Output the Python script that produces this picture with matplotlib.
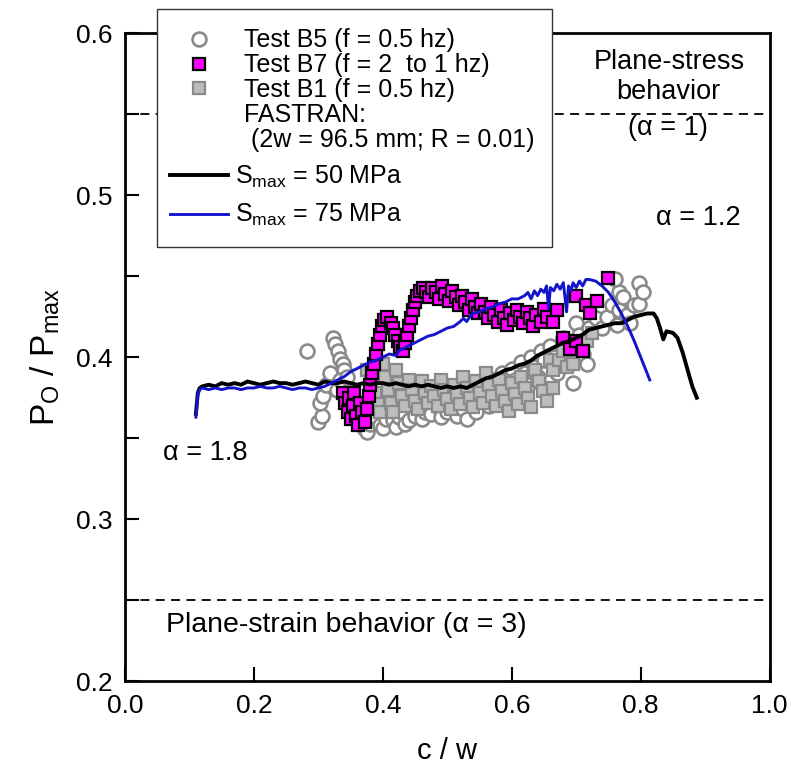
import numpy as np
import matplotlib
matplotlib.use("Agg")
import matplotlib.pyplot as plt
from matplotlib.lines import Line2D
from matplotlib.patches import Rectangle

plt.rcParams["font.family"] = ["Liberation Sans", "DejaVu Sans"]
plt.rcParams["mathtext.fontset"] = "custom"
plt.rcParams["mathtext.rm"] = "Liberation Sans"
plt.rcParams["mathtext.it"] = "Liberation Sans"

# Test B5 (open circles)
b5_pts = [
    (0.282, 0.404), (0.300, 0.360), (0.305, 0.364), (0.303, 0.372), (0.307, 0.376),
    (0.312, 0.383), (0.318, 0.390), (0.322, 0.412), (0.326, 0.408), (0.330, 0.404),
    (0.334, 0.399), (0.338, 0.396), (0.340, 0.392), (0.329, 0.380), (0.333, 0.386),
    (0.345, 0.388), (0.350, 0.378), (0.360, 0.370), (0.365, 0.362), (0.370, 0.356),
    (0.375, 0.354), (0.380, 0.359), (0.385, 0.364), (0.390, 0.370), (0.395, 0.358),
    (0.400, 0.356), (0.405, 0.362), (0.410, 0.368), (0.415, 0.361), (0.420, 0.357),
    (0.425, 0.363), (0.430, 0.366), (0.435, 0.359), (0.440, 0.361), (0.445, 0.369),
    (0.450, 0.364), (0.455, 0.372), (0.460, 0.362), (0.465, 0.366), (0.470, 0.371),
    (0.475, 0.365), (0.480, 0.374), (0.485, 0.369), (0.490, 0.363), (0.495, 0.371),
    (0.500, 0.366), (0.505, 0.375), (0.510, 0.370), (0.515, 0.364), (0.520, 0.372),
    (0.525, 0.368), (0.530, 0.362), (0.535, 0.376), (0.540, 0.371), (0.545, 0.366),
    (0.550, 0.374), (0.555, 0.382), (0.560, 0.378), (0.565, 0.370), (0.570, 0.386),
    (0.575, 0.380), (0.580, 0.374), (0.585, 0.390), (0.590, 0.384), (0.595, 0.376),
    (0.600, 0.393), (0.605, 0.386), (0.610, 0.380), (0.615, 0.397), (0.620, 0.390),
    (0.625, 0.383), (0.630, 0.400), (0.635, 0.394), (0.640, 0.388), (0.645, 0.404),
    (0.650, 0.398), (0.655, 0.380), (0.660, 0.407), (0.665, 0.400), (0.670, 0.390),
    (0.680, 0.412), (0.685, 0.405), (0.690, 0.396), (0.695, 0.384), (0.700, 0.421),
    (0.705, 0.414), (0.710, 0.402), (0.716, 0.396), (0.720, 0.418), (0.730, 0.424),
    (0.740, 0.418), (0.747, 0.425), (0.755, 0.432), (0.763, 0.420), (0.767, 0.429),
    (0.767, 0.440), (0.772, 0.437), (0.778, 0.426), (0.783, 0.421), (0.790, 0.432),
    (0.798, 0.433), (0.798, 0.446), (0.804, 0.440), (0.760, 0.448),
]

# Test B7 (magenta squares)
b7_pts = [
    (0.338, 0.378), (0.342, 0.372), (0.346, 0.366), (0.350, 0.362), (0.348, 0.375),
    (0.354, 0.370), (0.358, 0.364), (0.362, 0.358), (0.356, 0.378), (0.364, 0.372),
    (0.368, 0.366), (0.372, 0.360), (0.376, 0.368), (0.378, 0.376), (0.380, 0.383),
    (0.383, 0.390), (0.386, 0.396), (0.389, 0.402), (0.392, 0.408), (0.395, 0.414),
    (0.398, 0.419), (0.402, 0.423), (0.407, 0.425), (0.412, 0.421), (0.415, 0.418),
    (0.419, 0.414), (0.423, 0.410), (0.427, 0.406), (0.431, 0.404), (0.435, 0.409),
    (0.438, 0.414), (0.441, 0.419), (0.444, 0.424), (0.447, 0.429), (0.450, 0.434),
    (0.453, 0.438), (0.457, 0.441), (0.462, 0.443), (0.467, 0.440), (0.472, 0.437),
    (0.477, 0.443), (0.482, 0.440), (0.487, 0.436), (0.492, 0.444), (0.497, 0.439),
    (0.502, 0.435), (0.507, 0.441), (0.513, 0.437), (0.518, 0.432), (0.523, 0.438),
    (0.528, 0.434), (0.533, 0.429), (0.538, 0.436), (0.543, 0.431), (0.548, 0.427),
    (0.553, 0.433), (0.558, 0.428), (0.563, 0.424), (0.568, 0.431), (0.573, 0.426),
    (0.578, 0.422), (0.583, 0.429), (0.588, 0.424), (0.593, 0.420), (0.598, 0.427),
    (0.603, 0.423), (0.608, 0.429), (0.613, 0.425), (0.618, 0.421), (0.623, 0.428),
    (0.628, 0.424), (0.633, 0.419), (0.638, 0.426), (0.645, 0.422), (0.650, 0.430),
    (0.655, 0.425), (0.664, 0.422), (0.670, 0.429), (0.679, 0.412), (0.690, 0.405),
    (0.700, 0.438), (0.700, 0.410), (0.710, 0.404), (0.715, 0.432), (0.721, 0.427),
    (0.732, 0.435), (0.749, 0.449),
]

# Test B1 (gray squares)
b1_pts = [
    (0.375, 0.392), (0.382, 0.385), (0.388, 0.378), (0.392, 0.371), (0.396, 0.366),
    (0.400, 0.396), (0.404, 0.388), (0.408, 0.380), (0.412, 0.372), (0.416, 0.366),
    (0.420, 0.392), (0.425, 0.384), (0.430, 0.376), (0.435, 0.370), (0.440, 0.386),
    (0.445, 0.380), (0.450, 0.373), (0.455, 0.368), (0.460, 0.385), (0.465, 0.378),
    (0.470, 0.372), (0.475, 0.382), (0.480, 0.376), (0.485, 0.370), (0.490, 0.386),
    (0.495, 0.380), (0.500, 0.374), (0.505, 0.368), (0.510, 0.383), (0.515, 0.377),
    (0.520, 0.371), (0.525, 0.388), (0.530, 0.381), (0.535, 0.375), (0.540, 0.369),
    (0.545, 0.385), (0.550, 0.378), (0.555, 0.372), (0.560, 0.390), (0.565, 0.383),
    (0.570, 0.376), (0.575, 0.370), (0.580, 0.386), (0.585, 0.379), (0.590, 0.373),
    (0.595, 0.367), (0.600, 0.384), (0.605, 0.377), (0.610, 0.371), (0.615, 0.388),
    (0.620, 0.381), (0.625, 0.375), (0.630, 0.369), (0.636, 0.392), (0.642, 0.385),
    (0.648, 0.379), (0.654, 0.373), (0.660, 0.398), (0.664, 0.392), (0.664, 0.381),
    (0.674, 0.398), (0.680, 0.404), (0.686, 0.394), (0.695, 0.404), (0.695, 0.396),
    (0.705, 0.408), (0.716, 0.410), (0.725, 0.415),
]

# FASTRAN, Smax = 50 MPa
s50_pts = [
    (0.110, 0.365), (0.113, 0.378), (0.116, 0.381), (0.120, 0.382), (0.130, 0.383),
    (0.140, 0.382), (0.150, 0.384), (0.160, 0.383), (0.170, 0.384), (0.180, 0.383),
    (0.190, 0.385), (0.200, 0.384), (0.210, 0.383), (0.220, 0.384), (0.230, 0.385),
    (0.240, 0.384), (0.250, 0.384), (0.260, 0.383), (0.270, 0.384), (0.280, 0.385),
    (0.290, 0.384), (0.300, 0.383), (0.310, 0.385), (0.320, 0.384), (0.330, 0.384),
    (0.340, 0.385), (0.350, 0.384), (0.360, 0.383), (0.370, 0.384), (0.380, 0.383),
    (0.390, 0.384), (0.400, 0.384), (0.410, 0.383), (0.420, 0.384), (0.430, 0.383),
    (0.440, 0.382), (0.450, 0.383), (0.460, 0.382), (0.470, 0.383), (0.480, 0.382),
    (0.490, 0.381), (0.500, 0.382), (0.510, 0.381), (0.520, 0.382), (0.530, 0.381),
    (0.540, 0.383), (0.550, 0.385), (0.560, 0.387), (0.570, 0.388), (0.580, 0.390),
    (0.590, 0.392), (0.600, 0.393), (0.610, 0.395), (0.620, 0.396), (0.630, 0.398),
    (0.640, 0.401), (0.650, 0.403), (0.660, 0.405), (0.670, 0.407), (0.680, 0.409),
    (0.690, 0.410), (0.700, 0.412), (0.710, 0.414), (0.720, 0.417), (0.730, 0.418),
    (0.740, 0.419), (0.750, 0.420), (0.760, 0.421), (0.770, 0.421), (0.780, 0.423),
    (0.790, 0.425), (0.800, 0.426), (0.810, 0.427), (0.820, 0.427), (0.825, 0.424),
    (0.830, 0.418), (0.835, 0.411), (0.840, 0.416), (0.850, 0.415), (0.857, 0.412),
    (0.865, 0.403), (0.870, 0.396), (0.875, 0.389), (0.880, 0.382), (0.887, 0.375),
]

# FASTRAN, Smax = 75 MPa
s75_pts = [
    (0.110, 0.363), (0.113, 0.377), (0.116, 0.380), (0.120, 0.381), (0.130, 0.380),
    (0.140, 0.381), (0.150, 0.380), (0.160, 0.381), (0.170, 0.381), (0.180, 0.380),
    (0.190, 0.381), (0.200, 0.381), (0.210, 0.382), (0.220, 0.381), (0.230, 0.381),
    (0.240, 0.382), (0.250, 0.381), (0.260, 0.380), (0.270, 0.381), (0.280, 0.381),
    (0.290, 0.380), (0.300, 0.381), (0.310, 0.382), (0.320, 0.384), (0.330, 0.386),
    (0.340, 0.388), (0.350, 0.391), (0.360, 0.393), (0.370, 0.395), (0.380, 0.397),
    (0.390, 0.398), (0.400, 0.400), (0.410, 0.402), (0.420, 0.401), (0.425, 0.404),
    (0.430, 0.405), (0.440, 0.407), (0.450, 0.409), (0.460, 0.411), (0.470, 0.413),
    (0.480, 0.414), (0.490, 0.416), (0.500, 0.418), (0.510, 0.419), (0.520, 0.422),
    (0.525, 0.424), (0.530, 0.422), (0.535, 0.425), (0.540, 0.427), (0.550, 0.428),
    (0.560, 0.430), (0.570, 0.431), (0.580, 0.433), (0.590, 0.434), (0.600, 0.436),
    (0.610, 0.436), (0.620, 0.438), (0.625, 0.440), (0.630, 0.436), (0.635, 0.441),
    (0.640, 0.438), (0.645, 0.442), (0.650, 0.440), (0.654, 0.444), (0.657, 0.430),
    (0.660, 0.443), (0.665, 0.441), (0.670, 0.445), (0.675, 0.442), (0.680, 0.446),
    (0.685, 0.428), (0.688, 0.444), (0.692, 0.441), (0.695, 0.446), (0.700, 0.443),
    (0.705, 0.447), (0.710, 0.444), (0.715, 0.448), (0.720, 0.448), (0.730, 0.447),
    (0.740, 0.444), (0.750, 0.440), (0.760, 0.434), (0.770, 0.427), (0.780, 0.419),
    (0.790, 0.410), (0.800, 0.400), (0.807, 0.393), (0.814, 0.386),
]

b5_x, b5_y = np.array(b5_pts).T
b7_x, b7_y = np.array(b7_pts).T
b1_x, b1_y = np.array(b1_pts).T
s50_x, s50_y = np.array(s50_pts).T
s75_x, s75_y = np.array(s75_pts).T

BLUE = "#1414cc"
FIG_W, FIG_H = 791, 774
fig = plt.figure(figsize=(FIG_W / 100, FIG_H / 100), dpi=100)
ax = fig.add_axes([0.158, 0.120, 0.815, 0.837])

ax.plot(b5_x, b5_y, "o", ms=10, mfc="white", mec="#8a8a8a", mew=1.9, ls="none", zorder=2)
ax.plot(b1_x, b1_y, "s", ms=9.2, mfc="#bdbdbd", mec="#8a8a8a", mew=1.6, ls="none", zorder=3)
ax.plot(b7_x, b7_y, "s", ms=9.2, mfc="#ff00ff", mec="black", mew=1.6, ls="none", zorder=4)
ax.plot(s50_x, s50_y, color="black", lw=2.8, zorder=5)
ax.plot(s75_x, s75_y, color=BLUE, lw=2.1, zorder=6)

ax.axhline(0.55, color="black", lw=1.3, ls=(0, (5, 3.5)), zorder=1)
ax.axhline(0.25, color="black", lw=1.3, ls=(0, (5, 3.5)), zorder=1)

ax.text(0.845, 0.582, "Plane-stress", ha="center", va="center", fontsize=19.5)
ax.text(0.843, 0.5636, "behavior", ha="center", va="center", fontsize=19.5)
ax.text(0.842, 0.5414, "(α = 1)", ha="center", va="center", fontsize=19.5)
ax.text(0.890, 0.4858, "α = 1.2", ha="center", va="center", fontsize=19.5)
ax.text(0.124, 0.341, "α = 1.8", ha="center", va="center", fontsize=19.5)
ax.text(0.344, 0.2346, "Plane-strain behavior (α = 3)", ha="center", va="center",
        fontsize=20.5)

ax.set_xlim(0.0, 1.0)
ax.set_ylim(0.2, 0.6)
ax.set_xticks(np.arange(0.0, 1.01, 0.2))
ax.set_yticks(np.arange(0.2, 0.61, 0.1))
ax.set_yticks(np.arange(0.25, 0.6, 0.1), minor=True)
ax.xaxis.set_major_formatter(matplotlib.ticker.FormatStrFormatter("%.1f"))
ax.yaxis.set_major_formatter(matplotlib.ticker.FormatStrFormatter("%.1f"))
ax.tick_params(which="both", direction="in", length=10, width=1.5, labelsize=19,
               top=False, right=False)
ax.tick_params(axis="x", pad=9)
ax.tick_params(axis="y", pad=9)
for sp in ax.spines.values():
    sp.set_linewidth(2.0)

ax.set_xlabel("c / w", fontsize=21, labelpad=14)
ax.set_ylabel(r"P$_\mathrm{O}$ / P$_\mathrm{max}$", fontsize=24, labelpad=10)

# legend: frame drawn as one box, entries in two groups (the S_max rows sit wider apart)
frame = Rectangle((157 / FIG_W, 1 - 247 / FIG_H), 395 / FIG_W, 238 / FIG_H,
                  transform=fig.transFigure, facecolor="white", edgecolor="#333333",
                  lw=1.0, zorder=9, clip_on=False)
ax.add_patch(frame)

test_handles = [
    Line2D([], [], marker="o", ls="none", ms=10, mfc="white", mec="#8a8a8a", mew=1.9),
    Line2D([], [], marker="s", ls="none", ms=9.2, mfc="#ff00ff", mec="black", mew=1.6),
    Line2D([], [], marker="s", ls="none", ms=9.2, mfc="#bdbdbd", mec="#8a8a8a", mew=1.6),
    Line2D([], [], ls="none"),
    Line2D([], [], ls="none"),
]
test_labels = [
    "Test B5 (f = 0.5 hz)",
    "Test B7 (f = 2  to 1 hz)",
    "Test B1 (f = 0.5 hz)",
    "FASTRAN:",
    " (2w = 96.5 mm; R = 0.01)",
]
model_handles = [
    Line2D([], [], color="black", lw=2.8),
    Line2D([], [], color=BLUE, lw=2.1),
]
model_labels = [
    r"S$_\mathrm{max}$ = 50 MPa",
    r"S$_\mathrm{max}$ = 75 MPa",
]

leg1 = ax.legend(test_handles, test_labels, loc="center left",
                 bbox_to_anchor=(170 / FIG_W, 1 - 90 / FIG_H), bbox_transform=fig.transFigure,
                 fontsize=18, frameon=False, handlelength=2.3, handletextpad=0.65,
                 labelspacing=0.03, borderpad=0, borderaxespad=0)
leg1.set_zorder(10)
ax.add_artist(leg1)
leg2 = ax.legend(model_handles, model_labels, loc="center left",
                 bbox_to_anchor=(170 / FIG_W, 1 - 196 / FIG_H), bbox_transform=fig.transFigure,
                 fontsize=18, frameon=False, handlelength=2.3, handletextpad=0.3,
                 labelspacing=0.5, borderpad=0, borderaxespad=0)
leg2.set_zorder(10)

fig.savefig("out.png", dpi=100)
